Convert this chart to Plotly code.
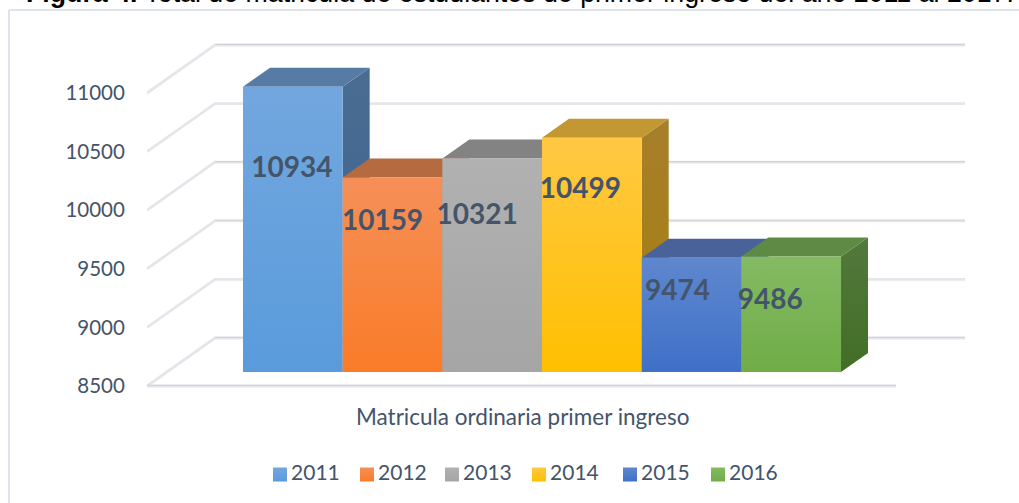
import plotly.graph_objects as go

years = ["2011", "2012", "2013", "2014", "2015", "2016"]
values = [10934, 10159, 10321, 10499, 9474, 9486]
y_ticks = [8500, 9000, 9500, 10000, 10500, 11000]
darker_wall_lines = [8500, 9500, 10000, 11000]
category = "Matricula ordinaria primer ingreso"
title_bold = "Figura 4."
title_rest = " Total de matricula de estudiantes de primer ingreso del año 2011 al 2017."

front_top = ["#72a7de", "#f58f58", "#b1b1b1", "#ffc843", "#5f87ce", "#84ba63"]
front_bot = ["#5a9bdc", "#fa7c28", "#a5a5a5", "#ffc000", "#3f70c8", "#70ad47"]
top_face = ["#567ca6", "#b56a40", "#838383", "#c39731", "#4a629a", "#5f8a45"]
side_top = ["#4a6c91", "#a05c35", "#707070", "#a67f2b", "#3f5587", "#53783c"]
side_bot = ["#3a6494", "#a8551d", "#757575", "#a67f0f", "#2b4f8e", "#426e26"]

# Offsets of the data labels from the middle of each bar, px
label_dx = [-1, -10, -15, -11.5, -14, -21]
label_px_y = [170, 223, 217, 191, 293, 302]
legend_px_x = [280, 367, 452, 539, 630, 718]

W, H = 1019, 503
LEFT = 147            # x of the axis line
PX_PER_VALUE = 293 / 2500
Y0_PX = 386           # pixel of the lowest tick
BAR_X0, BAR_W = 243, 99.67

def vx(px):           # pixel x -> x-axis units (one unit = one bar)
    return (px - BAR_X0) / BAR_W

def dv(px):           # pixel height -> value units
    return px / PX_PER_VALUE

def vy(py):
    return y_ticks[0] + dv(Y0_PX - py)

WALL_DX, WALL_DY = 68 / BAR_W, dv(48)
DEPTH_DX, DEPTH_DY = 27 / BAR_W, dv(19)
FLOOR_RISE = dv(14)
GRID = "#e4e6ea"
GRID_DARK = "#cfd2d6"

fig = go.Figure()

def poly(xs, ys, color, color2=None):
    kw = dict(fillcolor=color)
    if color2:
        kw = dict(fillgradient=dict(type="vertical",
                                    colorscale=[[0, color2], [1, color]]))
    fig.add_trace(go.Scatter(x=xs, y=ys, mode="lines", fill="toself",
                             line=dict(width=0, color=color),
                             hoverinfo="skip", showlegend=False, **kw))

def line(xs, ys, width=2.8, color=GRID):
    fig.add_trace(go.Scatter(x=xs, y=ys, mode="lines",
                             line=dict(width=width, color=color),
                             hoverinfo="skip", showlegend=False))

ax0 = vx(LEFT)
for t in y_ticks:
    line([ax0, ax0 + WALL_DX, vx(965)], [t, t + WALL_DY, t + WALL_DY])
line([ax0, vx(896)], [y_ticks[0], y_ticks[0]])
for t in darker_wall_lines:
    line([ax0 + WALL_DX, vx(965)], [t + WALL_DY + dv(0.6)] * 2, 1, GRID_DARK)
line([ax0, vx(896)], [y_ticks[0] + dv(0.6)] * 2, 1, GRID_DARK)

base = y_ticks[0] + FLOOR_RISE
for i, v in enumerate(values):
    top = v + FLOOR_RISE
    x0, x1 = i, i + 1
    poly([x1, x1 + DEPTH_DX, x1 + DEPTH_DX, x1, x1],
         [base, base + DEPTH_DY, top + DEPTH_DY, top, base],
         side_top[i], side_bot[i])
    poly([x0, x1, x1 + DEPTH_DX, x0 + DEPTH_DX, x0],
         [top, top, top + DEPTH_DY, top + DEPTH_DY, top], top_face[i])
    poly([x0, x1, x1, x0, x0], [base, base, top, top, base],
         front_top[i], front_bot[i])

fig.add_trace(go.Scatter(
    x=[i + 0.5 + vx(BAR_X0 + d) for i, d in enumerate(label_dx)],
    y=[vy(p) for p in label_px_y],
    mode="text", text=[str(v) for v in values], textposition="middle center",
    textfont=dict(family="Lato", size=28, color="#44546a", weight="bold"),
    hoverinfo="skip", showlegend=False))

for i, yr in enumerate(years):
    fig.add_trace(go.Scatter(
        x=[vx(legend_px_x[i])], y=[vy(474.5)], mode="markers+text", name=yr,
        text=["\u200a" + yr], textposition="middle right",
        textfont=dict(family="Lato", size=21, color="#44546a"),
        marker=dict(symbol="square", size=14, color=front_top[i],
                    gradient=dict(type="vertical", color=front_bot[i])),
        hoverinfo="skip", showlegend=False))

fig.add_annotation(x=vx(522), y=vy(416.5), xref="x", yref="y", text=category,
                   showarrow=False,
                   font=dict(family="Lato", size=22.5, color="#44546a"))
fig.add_annotation(x=(24 - LEFT) / (W - LEFT), y=1, xref="paper", yref="paper",
                   yshift=-10,
                   text=f"<b>{title_bold}</b>{title_rest}", showarrow=False,
                   font=dict(family="Liberation Sans", size=26.75, color="#000000"),
                   xanchor="left", yanchor="bottom")

frame = "#dfe3eb"
fx0 = (9 - LEFT) / (W - LEFT)
fig.add_shape(type="line", xref="paper", yref="paper", x0=fx0, x1=1.0,
              y0=1 - 10 / H, y1=1 - 10 / H, line=dict(color=frame, width=2))
fig.add_shape(type="line", xref="paper", yref="paper", x0=fx0, x1=fx0,
              y0=1 - 10 / H, y1=0, line=dict(color=frame, width=2))

fig.update_layout(
    width=W, height=H, autosize=False,
    margin=dict(l=LEFT, r=0, t=0, b=0, pad=0),
    paper_bgcolor="white", plot_bgcolor="white", showlegend=False,
    xaxis=dict(visible=False, range=[vx(LEFT), vx(W)], fixedrange=True),
    yaxis=dict(range=[vy(H), vy(0)], tickmode="array", tickvals=y_ticks,
               ticktext=[str(t) for t in y_ticks], showgrid=False, zeroline=False,
               showline=False, ticks="outside", ticklen=17, tickcolor="rgba(0,0,0,0)",
               tickfont=dict(family="Lato", size=20.5, color="#44546a"),
               fixedrange=True),
)
fig.write_html("out.html", config=dict(displayModeBar=False),
               post_script="document.body.style.margin='0';")
